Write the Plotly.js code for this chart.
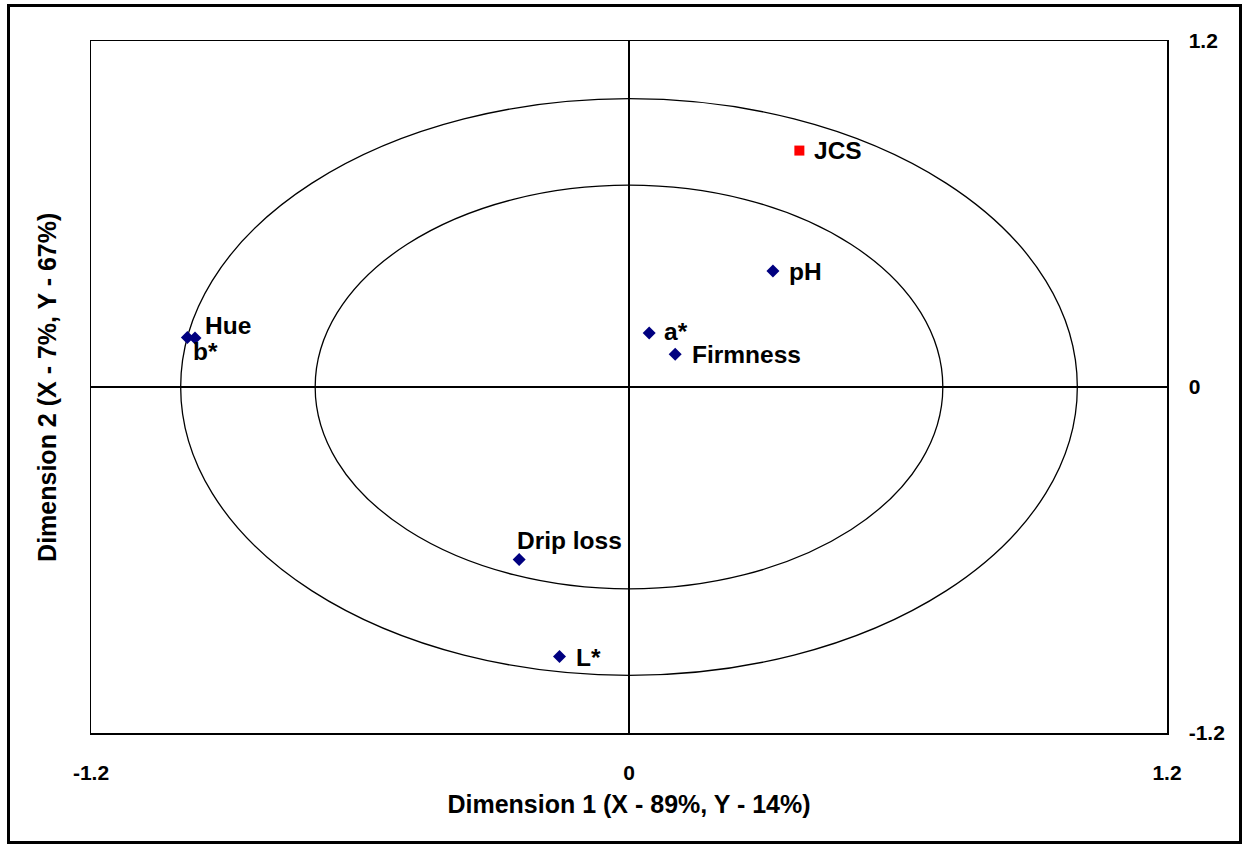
<!DOCTYPE html>
<html>
<head>
<meta charset="utf-8">
<script src="https://cdn.plot.ly/plotly-3.0.1.min.js"></script>
<style>
  html, body { margin: 0; padding: 0; background: #fff; }
  #wrap { position: relative; width: 1248px; height: 844px; }
  #chart { position: absolute; left: 0; top: 0; width: 1248px; height: 844px; }
  #frame { position: absolute; left: 7px; top: 4px; width: 1235px; height: 840px;
           box-sizing: border-box; border: 3px solid #000; pointer-events: none; }
</style>
</head>
<body>
<div id="wrap"><div id="chart"></div><div id="frame"></div></div>
<script>
// ---- data ----
const varNames  = ["pH", "a*", "Firmness", "Hue", "b*", "Drip loss", "L*"];
const varDim1   = [0.321, 0.045, 0.103, -0.968, -0.985, -0.245, -0.155];
const varDim2   = [0.402, 0.187, 0.114, 0.170, 0.172, -0.598, -0.935];
const sensNames = ["JCS"];
const sensDim1  = [0.380];
const sensDim2  = [0.820];
const circleRadii = [1.0, 0.7];
const tickValues  = [-1.2, 0, 1.2];
const tickLabels  = ["-1.2", "0", "1.2"];

// ---- label placement (pixels, style only) ----
const labelShift = {
  "pH": [14, 0], "a*": [13, 2], "Firmness": [15, 0], "Hue": [8, 12],
  "b*": [4, -14], "Drip loss": [-4, 19], "L*": [14, -1], "JCS": [13, 0]
};

const FONT = "Liberation Sans, Arial, Helvetica, sans-serif";

const traces = [
  { x: varDim1, y: varDim2, text: varNames, mode: "markers", type: "scatter",
    marker: { symbol: "diamond", size: 10, color: "#000080" }, hoverinfo: "text" },
  { x: sensDim1, y: sensDim2, text: sensNames, mode: "markers", type: "scatter",
    marker: { symbol: "square", size: 10, color: "#ff0000" }, hoverinfo: "text" }
];

const annotations = [];
function addLabels(names, xs, ys) {
  names.forEach((n, i) => {
    const s = labelShift[n] || [12, 0];
    annotations.push({ x: xs[i], y: ys[i], xref: "x", yref: "y", text: "<b>" + n + "</b>",
      showarrow: false, xanchor: "left", yanchor: "middle", xshift: s[0], yshift: s[1],
      font: { family: FONT, size: 24.5, color: "#000" } });
  });
}
addLabels(varNames, varDim1, varDim2);
addLabels(sensNames, sensDim1, sensDim2);

const shapes = circleRadii.map(r => ({
  type: "circle", xref: "x", yref: "y", x0: -r, x1: r, y0: -r, y1: r,
  line: { color: "#000", width: 1.3 }, layer: "below"
}));

const boldTicks = tickLabels.map(t => "<b>" + t + "</b>");

const layout = {
  width: 1248, height: 844,
  margin: { l: 91, r: 81, t: 41, b: 111 },
  paper_bgcolor: "#fff", plot_bgcolor: "#fff",
  showlegend: false,
  font: { family: FONT, color: "#000" },
  xaxis: {
    range: [-1.2, 1.2], tickvals: tickValues, ticktext: boldTicks, ticks: "",
    showgrid: false, zeroline: true, zerolinecolor: "#000", zerolinewidth: 1.3,
    showline: true, mirror: true, linecolor: "#000", linewidth: 1.5,
    tickfont: { family: FONT, size: 21, color: "#000" },
    ticklabelstandoff: 20,
    title: { text: "<b>Dimension 1 (X - 89%, Y - 14%)</b>", font: { family: FONT, size: 25, color: "#000" }, standoff: 13 },
    fixedrange: true
  },
  yaxis: {
    range: [-1.2, 1.2], tickvals: tickValues, ticktext: boldTicks, ticks: "", side: "right",
    showgrid: false, zeroline: true, zerolinecolor: "#000", zerolinewidth: 1.3,
    showline: true, mirror: true, linecolor: "#000", linewidth: 1.5,
    tickfont: { family: FONT, size: 21, color: "#000" },
    ticklabelstandoff: 16,
    fixedrange: true
  },
  shapes: shapes,
  annotations: annotations.concat([{
    xref: "paper", yref: "paper", x: -0.041, y: 0.5, xanchor: "center", yanchor: "middle",
    showarrow: false, textangle: -90, text: "<b>Dimension 2 (X - 7%, Y - 67%)</b>",
    font: { family: FONT, size: 25, color: "#000" }
  }])
};

Plotly.newPlot("chart", traces, layout, { displayModeBar: false, staticPlot: true });
</script>
</body>
</html>
